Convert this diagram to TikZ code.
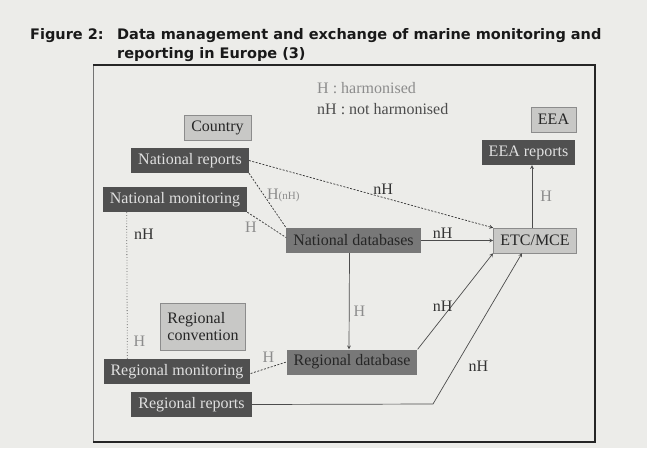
\documentclass[tikz,border=0pt]{standalone}
\usepackage{fontspec}
\setmainfont{Liberation Serif}
\newfontfamily\titlefont{DejaVu Sans}
\usetikzlibrary{calc}
\definecolor{paper}{RGB}{236,236,233}
\definecolor{darkbox}{RGB}{80,80,80}
\definecolor{midbox}{RGB}{120,120,120}
\definecolor{lightbox}{RGB}{200,200,198}
\definecolor{faint}{RGB}{140,140,140}
\newcommand\boxfont{\fontsize{16}{17}\selectfont}
\tikzset{
	dbox/.style={fill=darkbox, text=white!88!black, inner xsep=7pt, inner ysep=0pt, minimum height=25pt, font=\boxfont},
	mbox/.style={fill=midbox, text=black!85, inner xsep=7pt, inner ysep=0pt, minimum height=25pt, font=\boxfont},
	lbox/.style={fill=lightbox, draw=black!45, text=black!85, inner xsep=7pt, inner ysep=0pt, minimum height=25pt, font=\boxfont},
	lbl/.style={font=\boxfont, text=black!80, inner sep=1pt},
	hlbl/.style={font=\boxfont, text=faint, inner sep=1pt},
	dashline/.style={draw=black!80, dash pattern=on 2pt off 1.5pt, line width=0.7pt},
	flow/.style={draw=black!70, line width=0.7pt, ->},
	>=stealth
}

\begin{document}
\begin{tikzpicture}[x=1pt, y=-1pt]
				\fill[paper] (0,0) rectangle (647,448);
				\useasboundingbox (0,0) rectangle (647,448);
				
				% title
				\node[anchor=base west, inner sep=0pt, font=\titlefont\bfseries\fontsize{14.5}{19}\selectfont, text=black!90] (fig) at (30,39.5) {Figure 2:};
				\node[anchor=base west, inner sep=0pt, font=\titlefont\bfseries\fontsize{14.5}{19}\selectfont, text=black!90] (title1) at (117,39.5) {Data management and exchange of marine monitoring and};
				\node[anchor=base west, inner sep=0pt, font=\titlefont\bfseries\fontsize{14.5}{19}\selectfont, text=black!90] (title2) at (117,58.5) {reporting in Europe (3)};
				
				% frame
				\draw[black!55, line width=1pt] (93,442) -- (93,65);
				\draw[black!85, line width=1.4pt] (93,65) -- (595,65) -- (595,442) -- (93,442);
				
				% legend
				\node[hlbl, anchor=west] (legh) at (316,88) {H : harmonised};
				\node[lbl, anchor=west, text=black!70] (legnh) at (316,109) {nH : not harmonised};
				
				% country level
				\node[lbox] (country) at (217.5,128) {Country};
				\node[dbox] (natrep) at (190,160.5) {National reports};
				\node[dbox] (natmon) at (175,199.5) {National monitoring};
				\node[mbox] (natdb) at (353.5,240.5) {National databases};
				
				% European level
				\node[lbox] (eea) at (553.5,119.5) {EEA};
				\node[dbox] (eearep) at (528.5,152.5) {EEA reports};
				\node[lbox] (etc) at (535,240.5) {ETC/MCE};
				
				% regional level
				\node[lbox, align=left, minimum height=47pt] (regconv) at (203,326.5) {Regional\\convention};
				\node[dbox] (regmon) at (177,371.5) {Regional monitoring};
				\node[mbox] (regdb) at (352,362) {Regional database};
				\node[dbox] (regrep) at (191.5,404.5) {Regional reports};
				\coordinate (bend) at (433,404);
				
				% links
				\draw[dashline, ->] (natrep.east) -- (etc.north west) node[lbl, pos=0.55, above=2pt] {nH};
				\draw[dashline] (natrep.south east) -- (natdb.north west) node[hlbl, pos=0.4, right=2pt] {H{\fontsize{11}{12}\selectfont(nH)}};
				\draw[dashline] (natmon.south east) -- ([yshift=3pt]natdb.west) node[hlbl, pos=0.3, below left=1pt] {H};
				\draw[black!60, dotted, line width=0.8pt] ([xshift=24pt]natmon.south west) -- ([xshift=24pt]regmon.north west) node[lbl, pos=0.15, right=6pt] {nH} node[hlbl, pos=0.88, right=5pt] {H};
				\draw[dashline] ([yshift=-2pt]regmon.east) -- (regdb.west) node[hlbl, pos=0.5, above=4pt] {H};
				\draw[flow] (natdb.east) -- (etc.west) node[lbl, pos=0.3, above=1pt] {nH};
				\draw[flow] ([xshift=-4pt]natdb.south) -- ([xshift=-3pt]regdb.north) node[hlbl, pos=0.6, right=3pt] {H};
				\draw[flow] (regdb.north east) -- (etc.south west) node[lbl, pos=0.45, xshift=-9pt] {nH};
				\draw[flow] (regrep.east) -- (bend) -- ([xshift=-13pt]etc.south) node[lbl, pos=0.25, right=12pt] {nH};
				\draw[flow] ([xshift=-3pt]etc.north) -- ([xshift=-3pt]etc.north |- eearep.south) node[hlbl, pos=0.5, right=7pt] {H};
			\end{tikzpicture}
\end{document}
